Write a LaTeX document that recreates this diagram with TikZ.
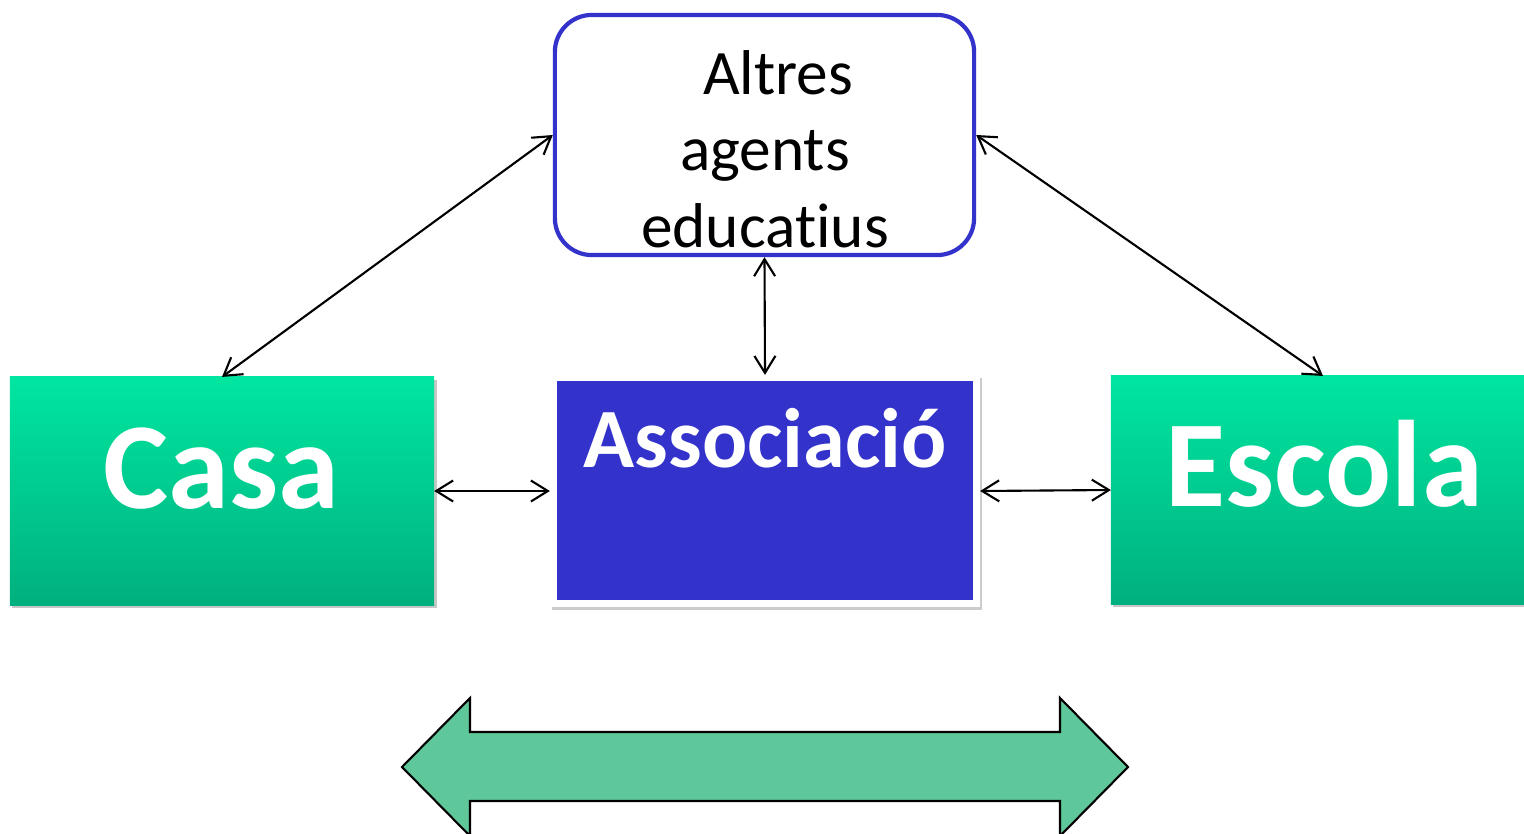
\documentclass[tikz,border=0pt]{standalone}
\usepackage{fontspec}
\setmainfont{Carlito}[Ligatures=NoCommon]
\usetikzlibrary{arrows.meta,shadows}
\definecolor{boxblue}{HTML}{3333CC}
\definecolor{greentop}{HTML}{00E6A0}
\definecolor{greenbot}{HTML}{00B07F}
\definecolor{arrowgreen}{HTML}{5FC89B}
\tikzset{
  conn/.style={line width=0.6pt,{Straight Barb[length=1.7mm,width=2.1mm]}-{Straight Barb[length=1.7mm,width=2.1mm]}},
  greenbox/.style={rectangle,inner sep=0pt,outer sep=0pt,minimum width=4.24cm,minimum height=2.28cm,
    top color=greentop,bottom color=greenbot,draw=none,
    drop shadow={shadow xshift=0.025cm,shadow yshift=-0.03cm,fill=black,opacity=0.22}},
  bigword/.style={font=\bfseries\fontsize{35}{40}\selectfont,text=white,anchor=base,inner sep=0pt},
  agtxt/.style={font=\fontsize{18}{22}\selectfont,text=black,anchor=base,inner sep=0pt}
}
\begin{document}
\begin{tikzpicture}[x=0.01cm,y=-0.01cm]
\useasboundingbox (0,0) rectangle (1524,833);
% top box
\node[draw=boxblue,line width=0.042cm,fill=white,rounded corners=0.37cm,minimum width=4.19cm,minimum height=2.40cm,inner sep=0pt] (altres) at (764.5,135) {};
\node[agtxt] (t1) at (778,94) {Altres};
\node[agtxt] (t2) at (765,170) {agents};
\node[agtxt] (t3) at (765,247) {educatius};
% Casa
\node[greenbox] (casa) at (222,491) {};
\node[bigword] (casatxt) at (221,508) {Casa};
% Escola
\node[greenbox] (escola) at (1323,490) {};
\node[bigword] (escolatxt) at (1324,506) {Escola};
% Associacio
\node[rectangle,fill=white,inner sep=0pt,outer sep=0pt,minimum width=4.30cm,minimum height=2.32cm,
  drop shadow={shadow xshift=0.02cm,shadow yshift=-0.03cm,fill=black,opacity=0.2}] (assocframe) at (765,491) {};
\node[rectangle,fill=boxblue,inner sep=0pt,outer sep=0pt,minimum width=4.16cm,minimum height=2.19cm] (assoc) at (765,490.5) {};
\node[font=\bfseries\fontsize{24}{28}\selectfont,text=white,anchor=base,inner sep=0pt] (assoctxt) at (765,467) {Associació};
% connectors
\draw[conn] (altres.west) -- (casa.north);
\draw[conn] (altres.east) -- (escola.north);
\draw[conn] (altres.south) -- (assocframe.north);
\draw[conn] (casa.east) -- (assocframe.west);
\draw[conn] (assocframe.east) -- (escola.west);
% big double arrow
\draw[fill=arrowgreen,line width=0.6pt,line join=miter]
  (402,767) -- (470,698) -- (470,732) -- (1060,732) -- (1060,698) -- (1128,767)
  -- (1060,836) -- (1060,801) -- (470,801) -- (470,836) -- cycle;
\end{tikzpicture}
\end{document}
